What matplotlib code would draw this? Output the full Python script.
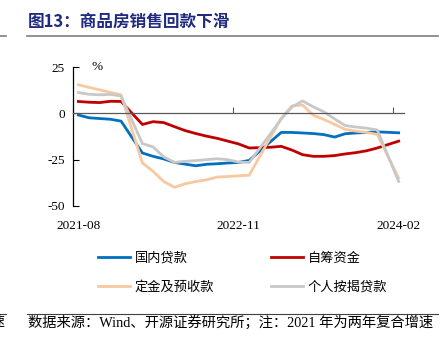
import matplotlib
matplotlib.use("Agg")
import matplotlib.pyplot as plt
import pandas as pd

plt.rcParams["axes.unicode_minus"] = False

# monthly cumulative yoy (%), January is not published
months = [
    "2021-08", "2021-09", "2021-10", "2021-11", "2021-12",
    "2022-02", "2022-03", "2022-04", "2022-05", "2022-06", "2022-07",
    "2022-08", "2022-09", "2022-10", "2022-11", "2022-12",
    "2023-02", "2023-03", "2023-04", "2023-05", "2023-06", "2023-07",
    "2023-08", "2023-09", "2023-10", "2023-11", "2023-12",
    "2024-02",
]
domestic_loans = [
    -0.9, -2.4, -2.8, -3.2, -4.2,
    -21.4, -23.2, -24.6, -26.5, -27.4, -28.3, -27.5, -27.2, -26.8, -26.5, -25.4,
    -15.3, -10.3, -10.3, -10.6, -10.9, -11.5, -12.8, -11.0, -10.6, -10.3, -10.0,
    -10.5,
]
self_raised = [
    6.4, 6.0, 5.8, 6.5, 6.4,
    -6.0, -4.5, -5.0, -7.2, -9.3, -10.9, -12.3, -13.5, -15.0, -16.5, -18.7,
    -18.3, -17.8, -19.8, -22.3, -23.2, -23.2, -22.8, -21.9, -21.2, -20.2, -18.7,
    -15.0,
]
deposits = [
    15.4, 14.0, 12.7, 11.3, 10.0,
    -26.8, -31.3, -36.8, -39.9, -38.0, -36.8, -35.9, -34.4, -34.1, -33.7, -33.4,
    -12.9, -2.7, 4.0, 4.5, -1.0, -3.3, -6.0, -8.7, -9.6, -10.3, -11.4,
    -35.0,
]
mortgage = [
    11.2, 10.3, 10.0, 10.2, 9.4,
    -16.3, -18.1, -23.5, -26.5, -25.9, -25.5, -25.0, -24.5, -25.0, -26.3, -26.5,
    -11.0, -3.1, 3.4, 6.7, 3.5, 0.8, -3.0, -6.6, -7.4, -8.0, -9.0,
    -36.8,
]
series_names = ["国内贷款", "自筹资金", "定金及预收款", "个人按揭贷款"]
series_colors = ["#0070C0", "#C00000", "#F8C8A0", "#C8C8C8"]
x_labels = ["2021-08", "2022-11", "2024-02"]
y_ticks = [25, 0, -25, -50]

per = pd.PeriodIndex(months, freq="M")
start = per[0]
x = [(p - start).n for p in per]
label_pos = [(pd.Period(s, freq="M") - start).n for s in x_labels]

SERIF = ["Liberation Serif", "Noto Sans CJK SC"]
CJK = ["Noto Sans CJK SC", "DejaVu Sans"]

fig = plt.figure(figsize=(4.46, 3.55), dpi=100)
ax = fig.add_axes([73 / 446, 1 - 206 / 355, (404 - 73) / 446, (206 - 67) / 355])

lines = []
for vals, name, col in zip([domestic_loans, self_raised, deposits, mortgage],
                           series_names, series_colors):
    ln, = ax.plot(x, vals, color=col, lw=2.0, label=name, solid_joinstyle="round")
    lines.append(ln)

ax.set_xlim(-0.5, x[-1] + 0.5)
ax.set_ylim(-50, 25)
ax.set_yticks(y_ticks)
ax.set_yticklabels([str(v) for v in y_ticks], family=SERIF, fontsize=9.5)
ax.tick_params(axis="y", direction="in", length=4, width=0.8, pad=6)
for s in ["top", "right"]:
    ax.spines[s].set_visible(False)
ax.spines["left"].set_linewidth(0.9)
ax.spines["bottom"].set_position(("data", 0))
ax.spines["bottom"].set_color("#595959")
ax.spines["bottom"].set_linewidth(0.9)
# tick marks sit between categories on the zero line
ax.set_xticks([p - 0.5 for p in label_pos])
ax.tick_params(axis="x", direction="in", length=4, width=0.8, colors="#595959",
               labelbottom=False)

sec = ax.secondary_xaxis("bottom")
sec.spines["bottom"].set_visible(False)
sec.set_xticks(label_pos)
sec.set_xticklabels(x_labels, family=SERIF, fontsize=9.5)
sec.tick_params(length=0, pad=10)

ax.text(0.072, 1.0, "%", transform=ax.transAxes, family=SERIF, fontsize=9.5,
        ha="center", va="center")

order = [0, 2, 1, 3]
fig.legend([lines[i] for i in order], [series_names[i] for i in order],
           loc="upper left", bbox_to_anchor=(86 / 446, 1 - 240 / 355), ncol=2,
           frameon=False, prop={"family": CJK, "size": 9.5},
           handlelength=2.4, handletextpad=0.4, columnspacing=4.3, labelspacing=1.2)

# title and source
fig.text(28 / 446, 1 - 22 / 355, "图13：商品房销售回款下滑", family=CJK, fontsize=12,
         fontweight="bold", color="#1F2A80", va="center")
fig.add_artist(plt.Line2D([27 / 446, 438 / 446], [1 - 36 / 355] * 2, color="#7F7F7F", lw=1.2))
fig.add_artist(plt.Line2D([0, 6 / 446], [1 - 36 / 355] * 2, color="#7F7F7F", lw=1.2))
fig.add_artist(plt.Line2D([27 / 446, 438 / 446], [1 - 314 / 355] * 2, color="#404040", lw=0.8))
fig.add_artist(plt.Line2D([0, 6 / 446], [1 - 314 / 355] * 2, color="#404040", lw=0.8))
fig.text(28 / 446, 1 - 322 / 355, "数据来源：Wind、开源证券研究所；注：2021 年为两年复合增速",
         family=SERIF, fontsize=10.3, va="center")
fig.text(4 / 446, 1 - 322 / 355, "速", family=CJK, fontsize=10, va="center", ha="right")

fig.savefig("out.png", dpi=100)
